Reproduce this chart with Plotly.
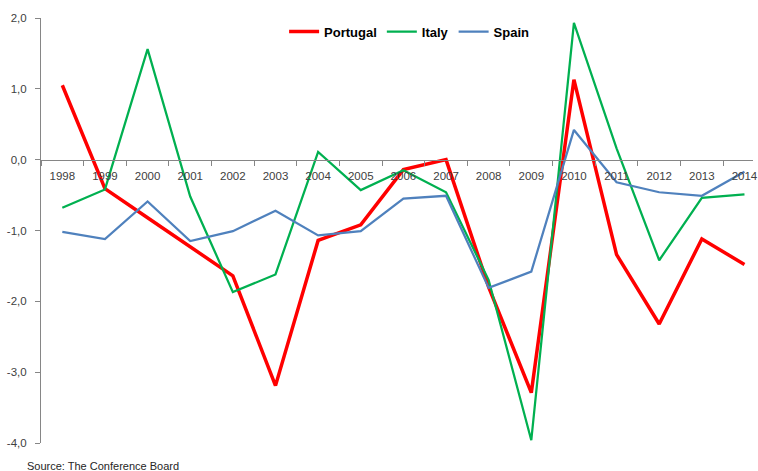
import plotly.graph_objects as go

years = [str(y) for y in range(1998, 2015)]
portugal = [1.05, -0.41, -0.82, -1.23, -1.64, -3.19, -1.14, -0.92, -0.14, 0.0,
            -1.80, -3.29, 1.13, -1.34, -2.32, -1.12, -1.48]
italy = [-0.68, -0.42, 1.56, -0.52, -1.87, -1.62, 0.11, -0.43, -0.15, -0.46,
         -1.70, -3.96, 1.93, 0.16, -1.42, -0.54, -0.49]
spain = [-1.02, -1.12, -0.59, -1.15, -1.01, -0.72, -1.07, -1.01, -0.55, -0.51,
         -1.81, -1.58, 0.42, -0.32, -0.46, -0.51, -0.17]
y_ticks = [2, 1, 0, -1, -2, -3, -4]
y_ticktext = [f"{v:.1f}".replace(".", ",") for v in y_ticks]

fig = go.Figure()
fig.add_trace(go.Scatter(x=years, y=portugal, name="Portugal", mode="lines",
                         line=dict(color="#FF0000", width=3.5)))
fig.add_trace(go.Scatter(x=years, y=italy, name="Italy", mode="lines",
                         line=dict(color="#00B050", width=2.25)))
fig.add_trace(go.Scatter(x=years, y=spain, name="Spain", mode="lines",
                         line=dict(color="#4F81BD", width=2.25)))

fig.update_layout(
    width=758, height=471,
    margin=dict(l=41, r=0, t=18, b=28),
    paper_bgcolor="white", plot_bgcolor="white",
    font=dict(family="Liberation Sans, Arial, sans-serif", size=11, color="#404040"),
    showlegend=True,
    legend=dict(orientation="h", x=0.517, xanchor="center", y=0.968, yanchor="middle",
                font=dict(size=13, color="#000000", family="Liberation Sans, Arial, sans-serif", weight="bold"),
                bgcolor="rgba(0,0,0,0)", itemwidth=30, tracegroupgap=0),
    xaxis=dict(type="category", range=[-0.5, 16.2], anchor="free", position=4/6,
               showline=True, linecolor="#868686", linewidth=1,
               ticks="outside", ticklen=5, tickcolor="#868686", tickson="boundaries",
               ticklabelstandoff=6,
               showgrid=False, zeroline=False, tickfont=dict(size=11.5, color="#404040")),
    yaxis=dict(range=[-4, 2], tickvals=y_ticks, ticktext=y_ticktext,
               showline=True, linecolor="#868686", linewidth=1,
               ticks="outside", ticklen=5, tickcolor="#868686",
               ticklabelstandoff=6,
               showgrid=False, zeroline=False, tickfont=dict(size=11.5, color="#404040")),
    annotations=[dict(text="Source: The Conference Board", xref="paper", yref="paper",
                      x=-0.0223, y=-0.054, xanchor="left", yanchor="middle", showarrow=False,
                      font=dict(size=11, color="#262626"))],
)

fig.write_html("out.html", config={"displayModeBar": False},
               post_script="document.body.style.margin='0px';")
